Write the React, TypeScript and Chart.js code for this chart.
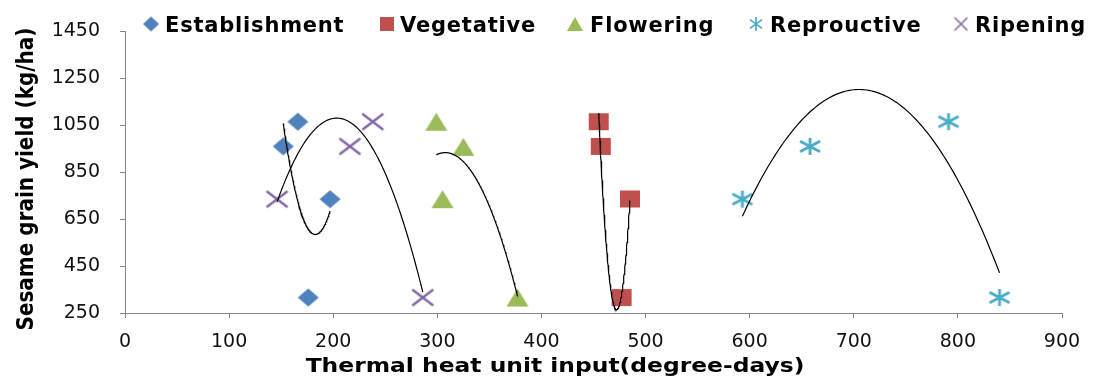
import React, { useEffect, useRef } from 'react';
import { Chart, registerables } from 'chart.js';

Chart.register(...registerables);

// ---- data ----
const seriesNames = ['Establishment', 'Vegetative', 'Flowering', 'Reprouctive', 'Ripening'];
const establishmentX = [152, 166, 197, 176];
const establishmentY = [960, 1065, 735, 316];
const vegetativeX = [455, 457, 485, 477];
const vegetativeY = [1065, 960, 736, 316];
const floweringX = [299, 325, 305, 377];
const floweringY = [1065, 958, 735, 316];
const reproductiveX = [593, 658, 791, 840];
const reproductiveY = [735, 960, 1065, 316];
const ripeningX = [146, 216, 238, 286];
const ripeningY = [735, 960, 1065, 316];

const xMin = 0;
const xMax = 900;
const xStep = 100;
const yMin = 250;
const yMax = 1450;
const yStep = 200;

const xTitle = 'Thermal heat unit input(degree-days)';
const yTitle = 'Sesame grain yield (kg/ha)';

const seriesColors = ['#4F81BD', '#C0504D', '#9BBB59', '#4BACC6', '#8064A2'];
const markerKinds = ['diamond', 'square', 'triangle', 'star', 'cross'];

// ---- helpers ----
function quadFit(xs: number[], ys: number[]) {
  const n = xs.length;
  const mx = xs.reduce((a, b) => a + b, 0) / n;
  const s = [0, 0, 0, 0, 0];
  const t = [0, 0, 0];
  for (let i = 0; i < n; i++) {
    const u = xs[i] - mx;
    for (let k = 0; k < 5; k++) s[k] += Math.pow(u, k);
    for (let k = 0; k < 3; k++) t[k] += ys[i] * Math.pow(u, k);
  }
  const A = [
    [s[0], s[1], s[2], t[0]],
    [s[1], s[2], s[3], t[1]],
    [s[2], s[3], s[4], t[2]],
  ];
  for (let c = 0; c < 3; c++) {
    let p = c;
    for (let r = c + 1; r < 3; r++) if (Math.abs(A[r][c]) > Math.abs(A[p][c])) p = r;
    [A[c], A[p]] = [A[p], A[c]];
    for (let r = 0; r < 3; r++) {
      if (r === c) continue;
      const f = A[r][c] / A[c][c];
      for (let k = c; k < 4; k++) A[r][k] -= f * A[c][k];
    }
  }
  const coef = [A[0][3] / A[0][0], A[1][3] / A[1][1], A[2][3] / A[2][2]];
  return (x: number) => {
    const u = x - mx;
    return coef[0] + coef[1] * u + coef[2] * u * u;
  };
}

function trendPoints(xs: number[], ys: number[]) {
  const f = quadFit(xs, ys);
  const lo = Math.min(...xs);
  const hi = Math.max(...xs);
  const pts: { x: number; y: number }[] = [];
  const N = 120;
  for (let i = 0; i <= N; i++) {
    const x = lo + ((hi - lo) * i) / N;
    pts.push({ x, y: f(x) });
  }
  return pts;
}

function makeMarker(kind: string, color: string, w: number, h: number) {
  const c = document.createElement('canvas');
  c.width = Math.ceil(w) + 4;
  c.height = Math.ceil(h) + 4;
  const g = c.getContext('2d')!;
  const cx = c.width / 2;
  const cy = c.height / 2;
  g.fillStyle = color;
  g.strokeStyle = color;
  g.lineCap = 'butt';
  if (kind === 'diamond') {
    g.beginPath();
    g.moveTo(cx, cy - h / 2);
    g.lineTo(cx + w / 2, cy);
    g.lineTo(cx, cy + h / 2);
    g.lineTo(cx - w / 2, cy);
    g.closePath();
    g.fill();
  } else if (kind === 'square') {
    g.fillRect(cx - w / 2, cy - h / 2, w, h);
  } else if (kind === 'triangle') {
    g.beginPath();
    g.moveTo(cx, cy - h / 2);
    g.lineTo(cx + w / 2, cy + h / 2);
    g.lineTo(cx - w / 2, cy + h / 2);
    g.closePath();
    g.fill();
  } else if (kind === 'star') {
    g.lineWidth = Math.max(1.5, w / 7);
    g.beginPath();
    g.moveTo(cx, cy - h / 2);
    g.lineTo(cx, cy + h / 2);
    g.moveTo(cx - w / 2, cy - h / 3.2);
    g.lineTo(cx + w / 2, cy + h / 3.2);
    g.moveTo(cx - w / 2, cy + h / 3.2);
    g.lineTo(cx + w / 2, cy - h / 3.2);
    g.stroke();
  } else if (kind === 'cross') {
    g.lineWidth = Math.max(1.2, w / 9);
    g.beginPath();
    g.moveTo(cx - w / 2, cy - h / 2);
    g.lineTo(cx + w / 2, cy + h / 2);
    g.moveTo(cx - w / 2, cy + h / 2);
    g.lineTo(cx + w / 2, cy - h / 2);
    g.stroke();
  }
  return c;
}

const markerSizes: Record<string, [number, number]> = {
  diamond: [21, 18],
  square: [20, 17],
  triangle: [22, 18],
  star: [20, 17],
  cross: [21, 16],
};
const legendSizes: Record<string, [number, number]> = {
  diamond: [16, 15],
  square: [14, 14],
  triangle: [16, 14],
  star: [12, 14],
  cross: [13, 13],
};
const legendTextX = [165, 400, 590, 770, 975];
const legendMarkX = [151, 387, 575, 756, 961];

export default function App() {
  const ref = useRef<HTMLCanvasElement>(null);

  useEffect(() => {
    const xsAll = [establishmentX, vegetativeX, floweringX, reproductiveX, ripeningX];
    const ysAll = [establishmentY, vegetativeY, floweringY, reproductiveY, ripeningY];

    const markers = markerKinds.map((k, i) => makeMarker(k, seriesColors[i], markerSizes[k][0], markerSizes[k][1]));
    const legendMarkers = markerKinds.map((k, i) => makeMarker(k, seriesColors[i], legendSizes[k][0], legendSizes[k][1]));

    const scatterSets = seriesNames.map((name, i) => ({
      type: 'scatter' as const,
      label: name,
      data: xsAll[i].map((x, j) => ({ x, y: ysAll[i][j] })),
      pointStyle: markers[i],
      pointRadius: 10,
      backgroundColor: seriesColors[i],
      borderColor: seriesColors[i],
      order: 2,
    }));
    const trendSets = seriesNames.map((name, i) => ({
      type: 'line' as const,
      label: name + ' trend',
      data: trendPoints(xsAll[i], ysAll[i]),
      borderColor: '#000',
      borderWidth: 1.2,
      pointRadius: 0,
      tension: 0,
      fill: false,
      order: 1,
    }));

    const decor = {
      id: 'decor',
      afterDraw(chart: any) {
        const ctx = chart.ctx as CanvasRenderingContext2D;
        ctx.save();
        ctx.fillStyle = '#000';
        // x title
        ctx.font = 'bold 20px "DejaVu Sans"';
        ctx.textAlign = 'center';
        ctx.textBaseline = 'alphabetic';
        ctx.save();
        ctx.translate(555, 372);
        ctx.scale(1.17, 1);
        ctx.fillText(xTitle, 0, 0);
        ctx.restore();
        // y title
        ctx.save();
        ctx.translate(33, 179);
        ctx.rotate(-Math.PI / 2);
        ctx.scale(1, 1.12);
        ctx.fillText(yTitle, 0, 0);
        ctx.restore();
        // legend
        ctx.font = 'bold 21px "DejaVu Sans"';
        ctx.textAlign = 'left';
        (ctx as any).letterSpacing = '0.8px';
        seriesNames.forEach((name, i) => {
          const m = legendMarkers[i];
          ctx.drawImage(m, legendMarkX[i] - m.width / 2, 24 - m.height / 2);
          ctx.fillText(name, legendTextX[i], 32);
        });
        ctx.restore();
      },
    };

    const chart = new Chart(ref.current!, {
      type: 'scatter',
      data: { datasets: [...scatterSets, ...trendSets] as any },
      options: {
        animation: false,
        responsive: false,
        layout: { padding: { top: 25, right: 34, left: 0, bottom: 0 } },
        plugins: { legend: { display: false }, tooltip: { enabled: false }, title: { display: false } },
        scales: {
          x: {
            type: 'linear',
            min: xMin,
            max: xMax,
            afterFit: (s: any) => {
              s.height = 70;
            },
            ticks: {
              stepSize: xStep,
              color: '#111',
              font: { family: 'DejaVu Sans', size: 19 },
              padding: 13,
              callback: (v: any) => String(v),
            },
            grid: { drawOnChartArea: false, drawTicks: true, tickLength: 5, color: '#868686' },
            border: { color: '#868686', width: 1 },
          },
          y: {
            type: 'linear',
            min: yMin,
            max: yMax,
            afterFit: (s: any) => {
              s.width = 125;
            },
            ticks: {
              stepSize: yStep,
              color: '#111',
              font: { family: 'DejaVu Sans', size: 19 },
              padding: 20,
              callback: (v: any) => String(v),
            },
            grid: { drawOnChartArea: false, drawTicks: true, tickLength: 5, color: '#868686' },
            border: { color: '#868686', width: 1 },
          },
        },
      },
      plugins: [decor],
    });
    return () => chart.destroy();
  }, []);

  return (
    <div style={{ position: 'fixed', left: 0, top: 0, width: 1096, height: 383, background: '#fff' }}>
      <canvas ref={ref} width={1096} height={383} style={{ display: 'block', width: 1096, height: 383 }} />
    </div>
  );
}
